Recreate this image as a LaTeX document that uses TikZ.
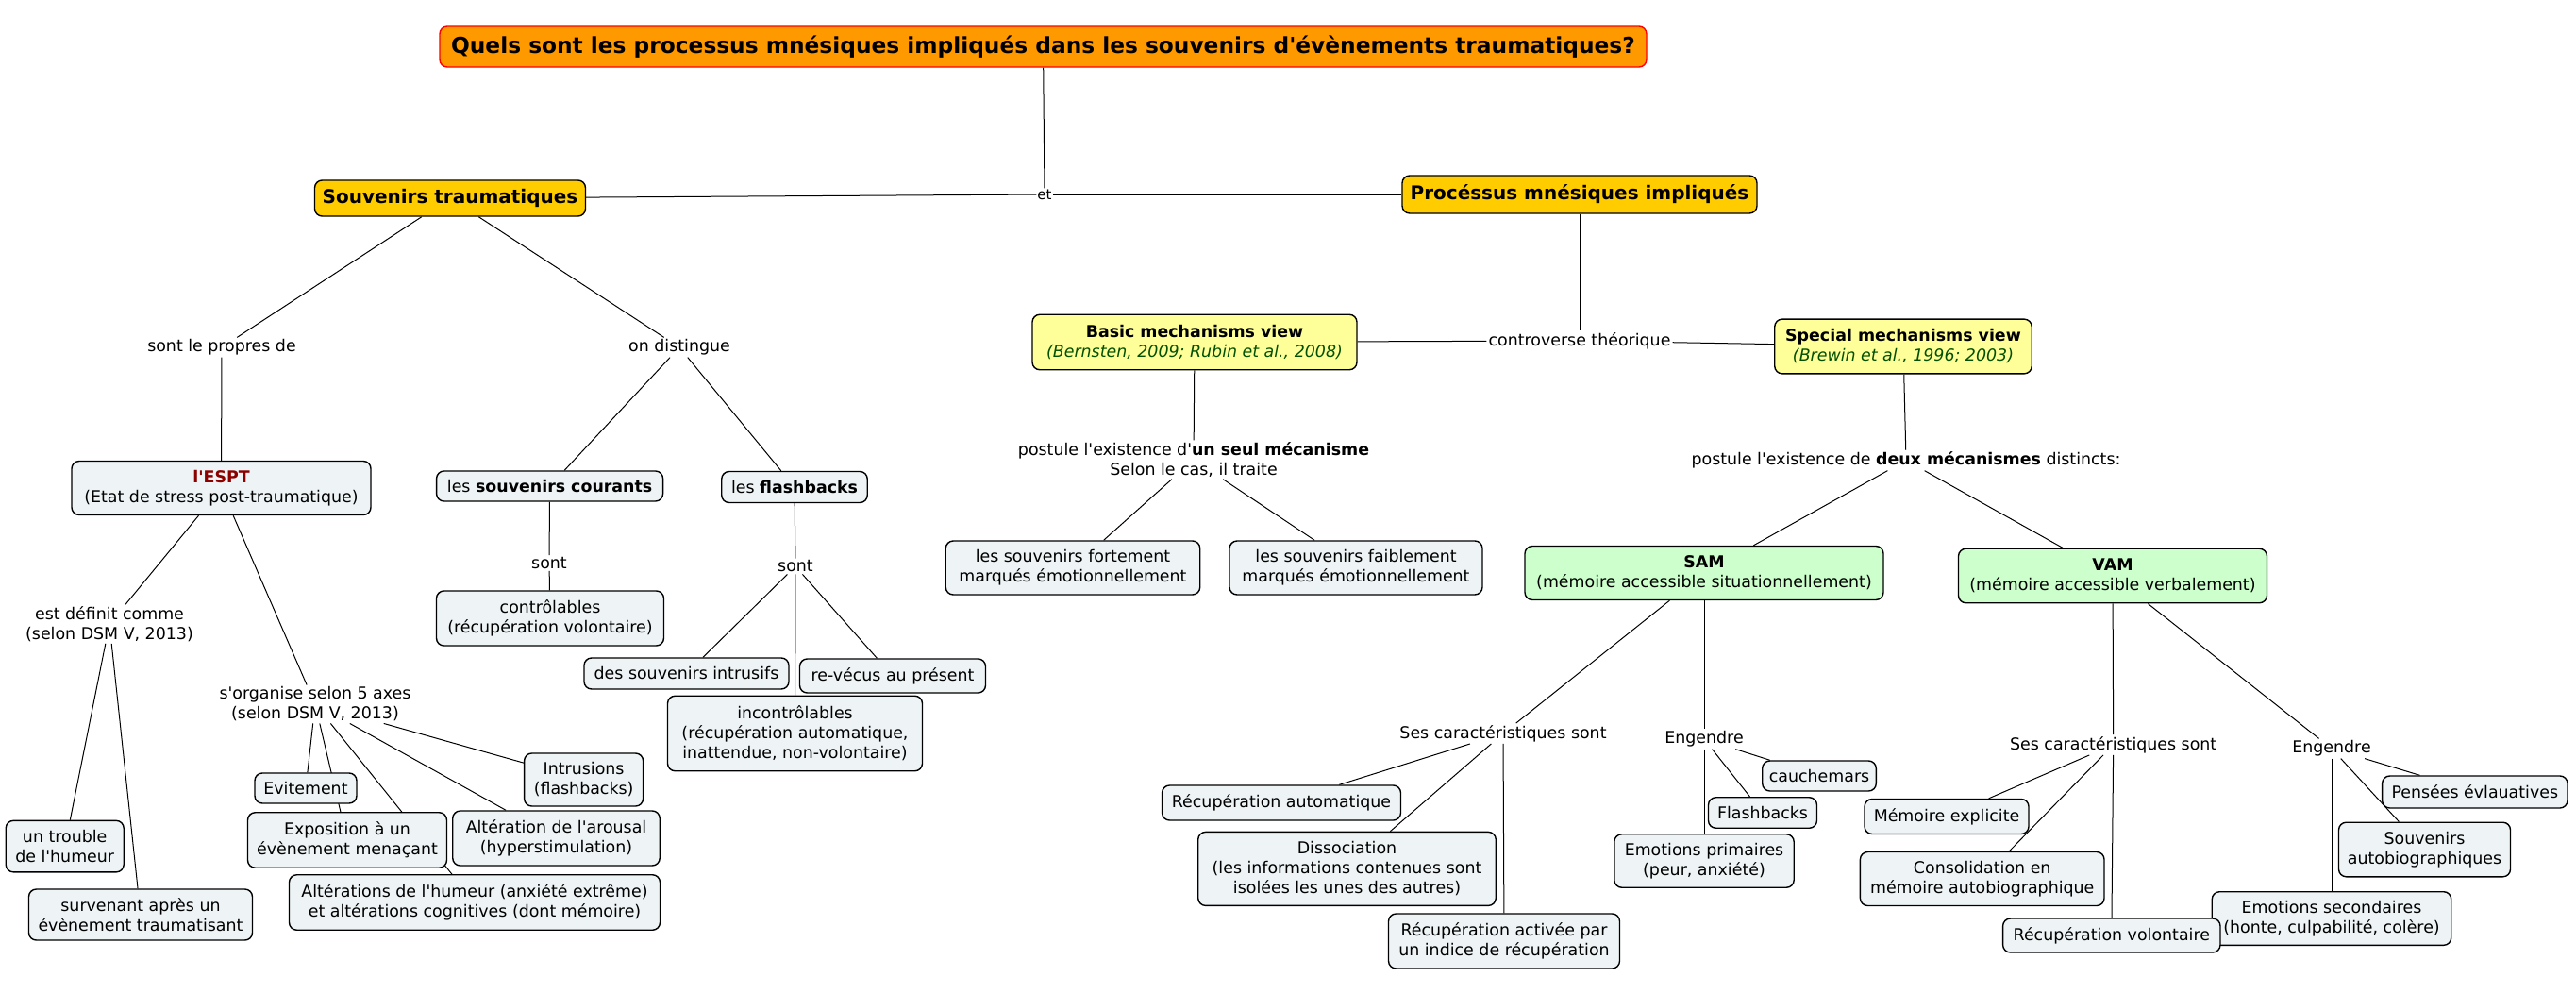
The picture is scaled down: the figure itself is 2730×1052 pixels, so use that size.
\documentclass[tikz,border=0pt]{standalone}
\usepackage{fontspec}
\setmainfont{DejaVu Sans}
\usetikzlibrary{backgrounds}
\definecolor{boxgray}{RGB}{238,244,246}
\definecolor{titleorange}{RGB}{255,153,0}
\definecolor{titlered}{RGB}{255,0,0}
\definecolor{gold}{RGB}{255,204,0}
\definecolor{paleyellow}{RGB}{255,255,153}
\definecolor{palegreen}{RGB}{204,255,204}
\definecolor{citegreen}{RGB}{0,80,0}
\definecolor{espred}{RGB}{140,0,0}
\newcommand\ap{\textquotesingle}
\newcommand\bodyf{\fontsize{17.4}{21}\selectfont}
\newcommand\smallf{\fontsize{15}{18}\selectfont}
\newcommand\headf{\fontsize{20}{24}\selectfont\bfseries}
\newcommand\titlef{\fontsize{23.3}{28}\selectfont\bfseries}
\newcommand\citetxt[1]{{\itshape\color{citegreen}#1}}
\begin{document}
\begin{tikzpicture}[x=1pt,y=-1pt,
  concept/.style={draw, line width=1.4pt, rounded corners=8pt, fill=boxgray,
    align=center, font=\bodyf, inner sep=1pt},
  sz/.style 2 args={minimum width=#1pt, minimum height=#2pt},
  link/.style={align=center, font=\bodyf, inner sep=2pt},
  conn/.style={line width=1pt}]
\useasboundingbox (0,0) rectangle (2730,1052);

% title and main branches
\node[concept, fill=titleorange, draw=titlered, font=\titlef, sz={1279}{43}] (title) at (1105.5,49.5)
  {Quels sont les processus mnésiques impliqués dans les souvenirs d\ap évènements traumatiques?};
\node[link, font=\smallf, inner sep=1pt] (et) at (1107,206) {et};
\node[concept, fill=gold, font=\headf, sz={287}{38}] (souv) at (477,210) {Souvenirs traumatiques};
\node[concept, fill=gold, font=\headf, sz={376}{40}] (proc) at (1674,206) {Procéssus mnésiques impliqués};

% left part
\node[link] (sontpropres) at (235,368) {sont le propres de};
\node[link] (ondist) at (720,368) {on distingue};
\node[concept, sz={317}{57}] (espt) at (234.5,517) {\textbf{\color{espred}l\ap ESPT}\\(Etat de stress post-traumatique)};
\node[link] (estdef) at (116,661) {est définit comme\\(selon DSM V, 2013)};
\node[link] (sorg) at (334,746) {s\ap organise selon 5 axes\\(selon DSM V, 2013)};
\node[concept, sz={125}{54.5}] (trouble) at (68.7,896.6) {un trouble\\de l\ap humeur};
\node[concept, sz={237}{54}] (surv) at (149,969) {survenant après un\\évènement traumatisant};
\node[concept, sz={108}{32}] (evit) at (324,835) {Evitement};
\node[concept, sz={211}{58.5}] (expo) at (368,890) {Exposition à un\\évènement menaçant};
\node[concept, sz={126}{56}] (intru) at (618.6,826) {Intrusions\\(flashbacks)};
\node[concept, sz={219.5}{58}] (arous) at (589.5,888) {Altération de l\ap arousal\\(hyperstimulation)};
\node[concept, sz={393}{58.5}] (alter) at (503,956) {Altérations de l\ap humeur (anxiété extrême)\\et altérations cognitives (dont mémoire)};
\node[concept, sz={240}{32}] (courants) at (582.6,515) {les \textbf{souvenirs courants}};
\node[link] (sont1) at (582,596.5) {sont};
\node[concept, sz={241}{58}] (contr) at (583,655) {contrôlables\\(récupération volontaire)};
\node[concept, sz={154.5}{33}] (flash) at (842,516) {les \textbf{flashbacks}};
\node[link] (sont2) at (843,600) {sont};
\node[concept, sz={217}{33}] (intrus) at (727.5,713.5) {des souvenirs intrusifs};
\node[concept, sz={197}{36}] (revecus) at (946,716) {re-vécus au présent};
\node[concept, sz={270}{79.5}] (incontr) at (842.5,777) {incontrôlables\\(récupération automatique,\\inattendue, non-volontaire)};

% right part
\node[concept, fill=paleyellow, sz={344}{58.5}] (basic) at (1266,362.5)
  {\textbf{Basic mechanisms view}\\\citetxt{(Bernsten, 2009; Rubin et al., 2008)}};
\node[link] (contro) at (1674,361) {controverse théorique};
\node[concept, fill=paleyellow, sz={272.5}{57.7}] (special) at (2017,367)
  {\textbf{Special mechanisms view}\\\citetxt{(Brewin et al., 1996; 2003)}};
\node[link] (post1) at (1265,487) {postule l\ap existence d\ap\textbf{un seul mécanisme}\\Selon le cas, il traite};
\node[concept, sz={269.5}{57}] (fort) at (1137,601.5) {les souvenirs fortement\\marqués émotionnellement};
\node[concept, sz={268}{57}] (faible) at (1437,601.5) {les souvenirs faiblement\\marqués émotionnellement};
\node[link] (post2) at (2020,487.7) {postule l\ap existence de \textbf{deux mécanismes} distincts:};
\node[concept, fill=palegreen, sz={380}{57}] (sam) at (1806,607) {\textbf{SAM}\\(mémoire accessible situationnellement)};
\node[concept, fill=palegreen, sz={327}{57.5}] (vam) at (2239,610) {\textbf{VAM}\\(mémoire accessible verbalement)};

\node[link] (ses1) at (1593,777) {Ses caractéristiques sont};
\node[concept, sz={253}{37}] (recauto) at (1358,850.5) {Récupération automatique};
\node[concept, sz={315.6}{78}] (dissoc) at (1427.5,920.4) {Dissociation\\(les informations contenues sont\\isolées les unes des autres)};
\node[concept, sz={245}{58}] (recact) at (1594,997) {Récupération activée par\\un indice de récupération};
\node[link] (eng1) at (1806,783) {Engendre};
\node[concept, sz={120.6}{32}] (cauch) at (1928,822) {cauchemars};
\node[concept, sz={115}{32.5}] (flashb) at (1868,861) {Flashbacks};
\node[concept, sz={190.4}{56.5}] (emoprim) at (1806,912) {Emotions primaires\\(peur, anxiété)};

\node[link] (ses2) at (2239.7,789) {Ses caractéristiques sont};
\node[concept, sz={174}{37}] (memexp) at (2063,865) {Mémoire explicite};
\node[concept, sz={258.6}{57}] (consol) at (2100.7,931) {Consolidation en\\mémoire autobiographique};
\node[link] (eng2) at (2471,793) {Engendre};
\node[concept, sz={196.4}{34}] (pensees) at (2622.8,839) {Pensées évlauatives};
\node[concept, sz={182}{57.6}] (souvauto) at (2569.5,900) {Souvenirs\\autobiographiques};
\node[concept, sz={253.5}{56.6}] (emosec) at (2471,973) {Emotions secondaires\\(honte, culpabilité, colère)};
\node[concept, sz={230.4}{36}] (recvol) at (2237.8,991) {Récupération volontaire};

\begin{scope}[on background layer]
\draw[conn] (title) -- (et);
\draw[conn] (souv) -- (et);
\draw[conn] (et) -- (proc);
\draw[conn] (souv) -- (sontpropres);
\draw[conn] (souv) -- (ondist);
\draw[conn] (sontpropres) -- (espt);
\draw[conn] (espt) -- (estdef);
\draw[conn] (espt) -- (sorg);
\draw[conn] (estdef) -- (trouble);
\draw[conn] (estdef) -- (surv);
\draw[conn] (sorg) -- (evit);
\draw[conn] (sorg) -- (expo);
\draw[conn] (sorg) -- (alter);
\draw[conn] (sorg) -- (arous);
\draw[conn] (sorg) -- (intru);
\draw[conn] (ondist) -- (courants);
\draw[conn] (ondist) -- (flash);
\draw[conn] (courants) -- (sont1);
\draw[conn] (sont1) -- (contr);
\draw[conn] (flash) -- (sont2);
\draw[conn] (sont2) -- (intrus);
\draw[conn] (sont2) -- (incontr);
\draw[conn] (sont2) -- (revecus);
\draw[conn] (proc) -- (contro);
\draw[conn] (basic) -- (contro);
\draw[conn] (contro) -- (special);
\draw[conn] (basic) -- (post1);
\draw[conn] (post1) -- (fort);
\draw[conn] (post1) -- (faible);
\draw[conn] (special) -- (post2);
\draw[conn] (post2) -- (sam);
\draw[conn] (post2) -- (vam);
\draw[conn] (sam) -- (ses1);
\draw[conn] (sam) -- (eng1);
\draw[conn] (ses1) -- (recauto);
\draw[conn] (ses1) -- (dissoc);
\draw[conn] (ses1) -- (recact);
\draw[conn] (eng1) -- (cauch);
\draw[conn] (eng1) -- (flashb);
\draw[conn] (eng1) -- (emoprim);
\draw[conn] (vam) -- (ses2);
\draw[conn] (vam) -- (eng2);
\draw[conn] (ses2) -- (memexp);
\draw[conn] (ses2) -- (consol);
\draw[conn] (ses2) -- (recvol);
\draw[conn] (eng2) -- (pensees);
\draw[conn] (eng2) -- (souvauto);
\draw[conn] (eng2) -- (emosec);
\end{scope}
\end{tikzpicture}
\end{document}
